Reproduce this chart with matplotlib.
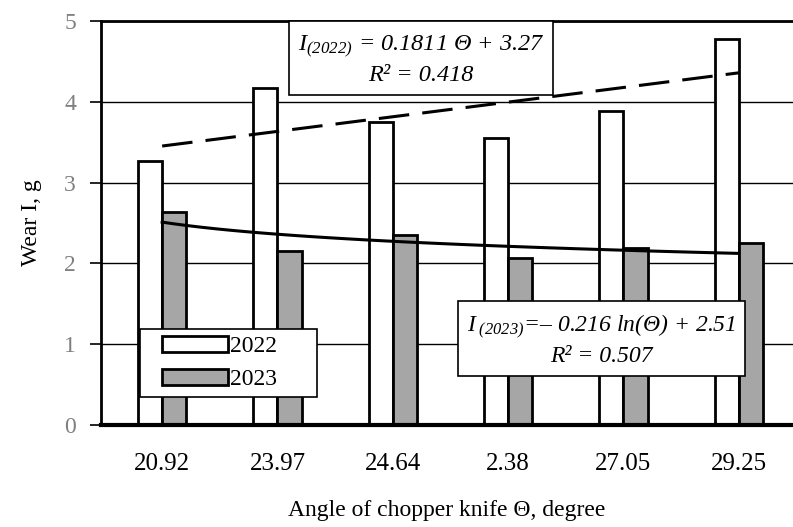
import numpy as np
import matplotlib
matplotlib.use('Agg')
import matplotlib.pyplot as plt
from matplotlib.patches import Rectangle

plt.rcParams['font.family'] = ['Liberation Serif', 'DejaVu Serif']
plt.rcParams['mathtext.fontset'] = 'custom'
plt.rcParams['mathtext.it'] = 'Liberation Serif:italic'
plt.rcParams['mathtext.rm'] = 'Liberation Serif:italic'

angles = ['20.92', '23.97', '24.64', '2.38', '27.05', '29.25']
wear_2022 = [3.27, 4.17, 3.75, 3.55, 3.88, 4.77]
wear_2023 = [2.64, 2.15, 2.35, 2.07, 2.19, 2.25]

x = np.arange(len(angles))
w = 0.21

fig = plt.figure(figsize=(7.93, 5.27), dpi=100)
ax = fig.add_axes([0.1274, 0.1935, 0.8726, 0.767])

ax.set_axisbelow(True)
ax.yaxis.grid(True, color='black', lw=1.0)
ax.bar(x - w / 2, wear_2022, w, color='white', edgecolor='black', lw=2, label='2022')
ax.bar(x + w / 2, wear_2023, w, color='#a6a6a6', edgecolor='black', lw=2, label='2023')

# trend lines (Excel style, x = 1..6)
t = np.linspace(1, 6, 100)
ax.plot(t - 1, 0.1811 * t + 3.27, ls=(0, (10, 4.3)), c='black', lw=2.2)
ax.plot(t - 1, -0.216 * np.log(t) + 2.51, c='black', lw=2.2)

ax.set_xlim(-0.53, 5.47)
ax.set_ylim(0, 5)
ax.set_yticks([0, 1, 2, 3, 4, 5])
ax.set_xticks(x)
ax.set_xticklabels(angles, fontsize=18)
ax.tick_params(axis='x', length=0, pad=20)
ax.tick_params(axis='y', labelsize=17, labelcolor='#7f7f7f', length=8, width=1.2,
               direction='out', pad=10)
ax.spines['right'].set_visible(False)
ax.spines['left'].set_linewidth(2)
ax.spines['top'].set_linewidth(2)
ax.spines['bottom'].set_linewidth(3)

ax.set_ylabel('Wear I, g', fontsize=17, labelpad=16)
ax.set_xlabel('Angle of chopper knife Θ, degree', fontsize=17, labelpad=18)

ax.text(2.245, 4.52, '$I_{(2022)}$ = 0.1811 Θ + 3.27\nR² = 0.418', ha='center', va='center',
        fontsize=17.5, style='italic', linespacing=1.3,
        bbox=dict(boxstyle='square,pad=0.37', fc='white', ec='black', lw=1.2))
ax.text(3.81, 1.05, '$I_{\\ (2023)}$=– 0.216 ln(Θ) + 2.51\nR² = 0.507', ha='center', va='center',
        fontsize=17, style='italic', linespacing=1.3,
        bbox=dict(boxstyle='square,pad=0.37', fc='white', ec='black', lw=1.2))

# legend box drawn separately so the padding matches the original
ax.add_patch(Rectangle((0.0564, 0.069), 0.2556, 0.169, transform=ax.transAxes,
                       fc='white', ec='black', lw=1.2, zorder=4.5))
leg = ax.legend(loc='center left', bbox_to_anchor=(0.088, 0.1535), borderaxespad=0,
                borderpad=0, fontsize=17, frameon=False,
                handlelength=2.8, handleheight=0.68, handletextpad=0.1,
                labelspacing=0.48)

fig.savefig('out.png', dpi=100)
